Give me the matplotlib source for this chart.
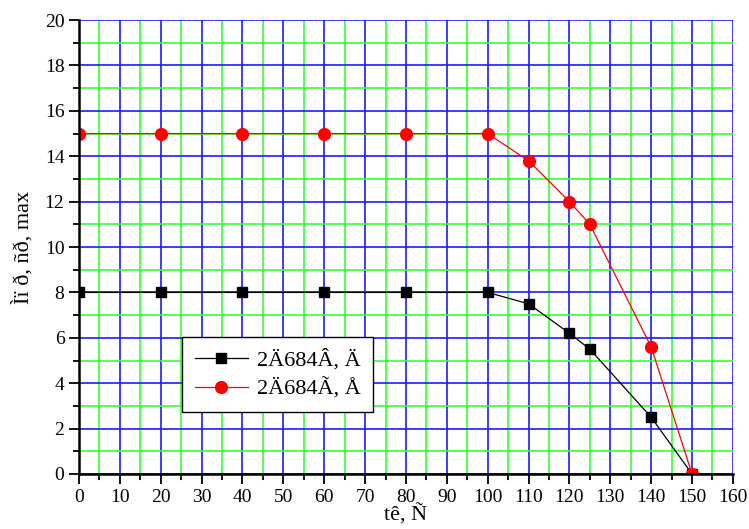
import numpy as np
import matplotlib.pyplot as plt
from matplotlib.ticker import MultipleLocator

plt.rcParams['font.family'] = ['Liberation Serif', 'DejaVu Serif']

# temperature points and max values of the two series
t_black = [0, 20, 40, 60, 80, 100, 110, 120, 125, 140, 150]
m_black = [8, 8, 8, 8, 8, 8, 7.5, 6.2, 5.5, 2.5, 0]
t_red = [0, 20, 40, 60, 80, 100, 110, 120, 125, 140, 150]
m_red = [15, 15, 15, 15, 15, 15, 13.8, 12, 11, 5.6, 0]
labels = ['2Ä684Â, Ä', '2Ä684Ã, Å']

fig = plt.figure(figsize=(7.49, 5.29), dpi=100)
ax = fig.add_axes([0.1055, 0.104, 0.873, 0.858])

ax.set_xlim(0, 160)
ax.set_ylim(0, 20)
ax.xaxis.set_major_locator(MultipleLocator(10))
ax.xaxis.set_minor_locator(MultipleLocator(5))
ax.yaxis.set_major_locator(MultipleLocator(2))
ax.yaxis.set_minor_locator(MultipleLocator(1))
ax.set_axisbelow(True)
ax.grid(which='minor', color='#33ff33', linewidth=1.2)
ax.grid(which='major', color='#1a1aff', linewidth=1.2)

ax.plot(t_black, m_black, color='black', linewidth=0.9, marker='s',
        markersize=7, label=labels[0], zorder=3)
ax.plot(t_red, m_red, color='red', linewidth=0.9, marker='o',
        markersize=8.5, label=labels[1], zorder=3)

for s in ['top', 'right']:
    ax.spines[s].set_visible(False)
for s in ['left', 'bottom']:
    ax.spines[s].set_linewidth(1.8)
    ax.spines[s].set_zorder(4)
ax.tick_params(which='major', direction='out', length=7, width=1.3, labelsize=14)
ax.tick_params(which='minor', direction='out', length=4, width=1.3)

ax.set_xlabel('tê, Ñ', fontsize=16, labelpad=-1)
ax.set_ylabel('Ìï ð, ñð, max', fontsize=16, labelpad=8)

leg = ax.legend(loc='lower left', bbox_to_anchor=(0.141, 0.112), fontsize=16,
                fancybox=False, framealpha=1, edgecolor='black',
                handlelength=2.4, borderpad=0.55, labelspacing=0.35,
                handletextpad=0.4)
leg.get_frame().set_linewidth(1.0)

fig.savefig('out.png', dpi=100)
